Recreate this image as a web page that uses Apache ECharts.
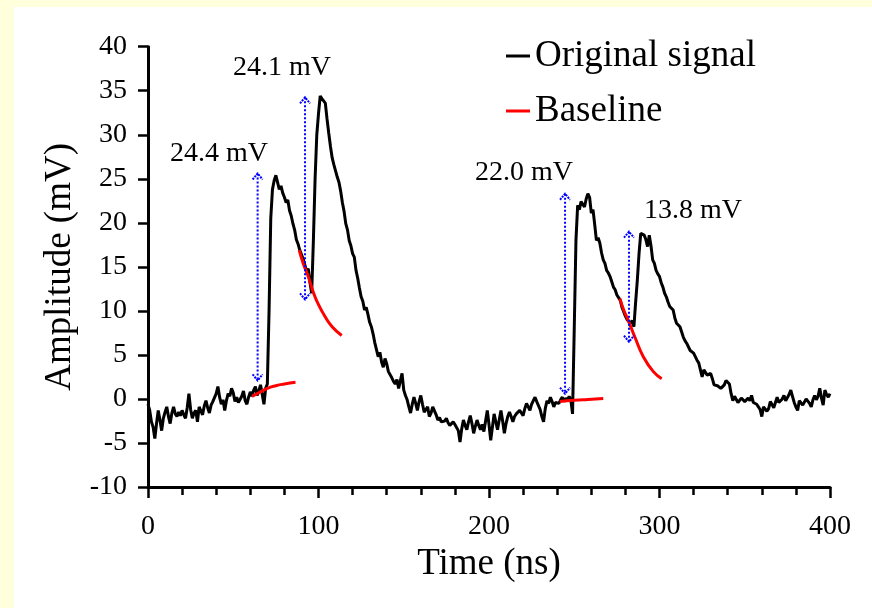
<!DOCTYPE html>
<html>
<head>
<meta charset="utf-8">
<script src="https://cdn.jsdelivr.net/npm/echarts@6/dist/echarts.min.js"></script>
<style>
  html, body { margin: 0; padding: 0; background: #FFFFDC; width: 872px; height: 608px; overflow: hidden; }
  #panel { position: absolute; left: 14px; top: 7px; width: 858px; height: 601px; background: #ffffff; }
  #chart { position: absolute; left: 0; top: 0; width: 872px; height: 608px; }
</style>
</head>
<body>
<div id="panel"></div>
<div id="chart"></div>
<script>
// ---- Data ----
const sampleStepNs = 1; // sampling interval of the recorded signal (ns)
const signalAmp = [
  -0.6,-1.3,-2.6,-3.2,-4.5,-2.8,-1.3,-2.4,-3.6,-2.2,
  -1.5,-0.9,-2.0,-2.8,-1.6,-0.9,-1.7,-2.0,-1.5,-1.9,
  -1.3,-1.8,-2.2,-1.0,0.6,-1.2,-2.2,-1.6,-1.3,-2.6,
  -0.9,-1.1,-1.8,-0.8,-0.2,-1.0,-1.6,-0.7,-0.3,-0.4,
  0.6,1.4,0.2,-0.6,-0.1,-1.3,-0.2,0.6,0.3,1.2,
  0.7,-0.3,0.2,-0.4,-0.5,0.3,0.9,-0.2,-0.6,0.2,
  0.8,0.3,1.0,1.4,0.4,0.9,1.6,0.5,-0.6,1.2,
  1.7,10.0,20.5,23.8,24.8,25.4,24.6,23.8,24.2,23.4,
  22.9,22.3,22.6,21.4,20.8,19.9,19.2,18.1,17.6,16.9,
  16.4,15.9,15.7,14.5,14.8,13.2,12.0,18.0,25.0,30.0,
  32.4,34.4,34.1,34.3,33.6,31.8,30.2,28.7,27.4,26.6,
  25.9,25.2,24.6,23.6,22.3,21.3,19.9,19.2,18.0,17.4,
  16.5,16.1,14.6,13.7,12.6,11.6,11.1,10.1,10.4,9.6,
  8.7,8.2,7.4,6.4,5.6,4.8,5.3,4.2,3.6,4.6,
  4.0,3.1,2.9,2.4,2.0,1.7,2.2,1.2,1.0,2.9,
  1.0,0.4,-0.1,-0.9,-1.6,-0.6,0.2,-0.5,-1.3,-0.3,
  0.4,-0.6,-1.5,-1.2,-0.9,-2.0,-1.6,-0.9,-0.7,-1.8,
  -2.4,-2.1,-2.6,-2.8,-2.5,-2.2,-2.7,-3.0,-3.2,-2.6,
  -2.9,-2.8,-3.6,-4.9,-3.4,-2.4,-3.0,-3.5,-2.6,-1.9,
  -2.8,-3.9,-3.1,-2.4,-3.0,-3.5,-2.9,-3.7,-2.5,-1.3,
  -2.9,-4.7,-3.2,-1.7,-2.6,-3.5,-2.4,-1.3,-2.5,-3.9,
  -2.8,-2.0,-1.5,-2.0,-2.6,-2.0,-1.7,-1.9,-1.3,-1.6,
  -1.9,-1.1,-0.5,-0.9,-1.3,-0.6,-0.2,0.2,-0.3,-0.5,
  -1.2,-2.0,-2.6,-1.1,-0.2,-0.5,0.2,-0.3,-0.9,-0.4,
  -0.2,-0.5,-0.1,0.2,-0.3,0.1,-0.2,0.3,-0.1,-1.7,
  8.0,18.0,22.0,21.5,22.4,22.6,21.8,22.7,23.3,22.9,
  21.1,21.5,19.8,18.0,18.3,17.7,16.6,15.8,15.4,14.6,
  14.3,13.9,13.3,12.7,12.4,11.8,11.5,11.2,10.4,9.9,
  9.4,9.0,8.8,8.6,8.9,8.2,11.0,13.5,16.5,18.8,
  19.0,18.6,18.1,17.3,18.6,17.4,15.8,15.4,14.6,14.2,
  13.9,13.2,12.7,12.0,11.6,11.0,10.5,10.6,10.1,9.2,
  8.6,8.4,8.2,7.6,7.0,6.6,6.3,5.9,5.5,5.3,
  5.2,4.8,4.4,4.1,3.9,2.5,3.3,3.1,2.7,2.5,
  2.9,2.3,1.6,1.7,1.5,1.4,1.2,1.0,1.6,2.1,
  1.9,1.7,0.6,-0.2,0.3,0.2,-0.4,-0.5,0.1,0.0,
  -0.3,-0.5,0.1,-0.2,0.4,-0.4,-0.2,-0.6,-0.9,-1.2,
  -2.0,-0.9,-0.7,-1.4,-1.1,-0.3,-0.5,-1.0,-0.4,0.2,
  -0.4,-0.6,0.0,0.4,-0.2,-0.3,0.5,1.0,0.3,-0.4,
  -0.9,-1.3,-0.2,-0.4,-0.7,-0.7,0.0,0.2,-0.5,-0.9,
  -0.1,0.4,-0.1,0.3,1.2,0.1,-0.7,1.0,0.5,0.2,
  0.6
];

// Baseline segments (time ns, amplitude mV)
const baseline1Time = [61, 65, 70, 75, 80, 86.5];
const baseline1Amp  = [0.3, 0.7, 1.2, 1.5, 1.7, 1.9];
const baseline2Time = [88.7, 91, 94, 97, 100, 104, 108, 113.6];
const baseline2Amp  = [16.9, 15.4, 13.9, 12.1, 10.7, 9.3, 8.2, 7.2];
const baseline3Time = [241.5, 250, 258, 267];
const baseline3Amp  = [-0.3, -0.15, -0.05, 0.05];
const baseline4Time = [276.8, 279, 281.7, 285.6, 290.5, 296.4, 301.3];
const baseline4Amp  = [11.4, 10.1, 8.9, 7.0, 4.8, 3.1, 2.3];

// Amplitude annotations (double arrows)
const arrowTime   = [64.3, 92.1, 244.6, 282.1];
const arrowTop    = [25.6, 34.25, 23.3, 19.0];
const arrowBottom = [2.1, 11.3, 0.6, 6.5];
const labelTime   = [41.6, 78.6, 220.5, 319.6];
const labelAmp    = [27.8, 37.6, 25.7, 21.4];
const labelText   = ['24.4 mV', '24.1 mV', '22.0 mV', '13.8 mV'];

const xTicks = { min: 0, max: 400, step: 100 };
const yTicks = { min: -10, max: 40, step: 5 };

// ---- Build ----
const FONT = '"Liberation Serif", "Times New Roman", serif';
const signalData = signalAmp.map((v, i) => [i * sampleStepNs, v]);
const zip = (a, b) => a.map((t, i) => [t, b[i]]);
const baselineSegs = [
  zip(baseline1Time, baseline1Amp),
  zip(baseline2Time, baseline2Amp),
  zip(baseline3Time, baseline3Amp),
  zip(baseline4Time, baseline4Amp)
];
const arrowData = arrowTime.map((t, i) => [t, arrowTop[i], arrowBottom[i], labelTime[i], labelAmp[i]]);

const chart = echarts.init(document.getElementById('chart'), null, { renderer: 'canvas' });
const axisColor = '#000';
const blue = '#0000FF';

const series = [
  {
    name: 'Original signal', type: 'line', data: signalData, showSymbol: false, symbol: 'none',
    lineStyle: { color: '#000', width: 3 }, itemStyle: { color: '#000' }, z: 2, animation: false
  }
];
baselineSegs.forEach(seg => series.push({
  name: 'Baseline', type: 'line', data: seg, showSymbol: false, symbol: 'none', smooth: true,
  lineStyle: { color: '#FF0000', width: 3 }, itemStyle: { color: '#FF0000' }, z: 3, animation: false
}));
series.push({
  type: 'custom', data: arrowData, z: 4, clip: false, animation: false, silent: true,
  encode: { x: [0, 3], y: [1, 2, 4] },
  renderItem: function (params, api) {
    const i = params.dataIndex;
    const x = api.value(0);
    const pT = api.coord([x, api.value(1)]);
    const pB = api.coord([x, api.value(2)]);
    const pL = api.coord([api.value(3), api.value(4)]);
    const st = { stroke: blue, lineWidth: 2, lineDash: [2, 2], fill: null };
    const hw = 5, hh = 6;
    return {
      type: 'group',
      children: [
        { type: 'line', shape: { x1: pT[0], y1: pT[1], x2: pB[0], y2: pB[1] }, style: st },
        { type: 'polyline', shape: { points: [[pT[0] - hw, pT[1] + hh], [pT[0], pT[1]], [pT[0] + hw, pT[1] + hh]] },
          style: { stroke: blue, lineWidth: 2, lineDash: [2, 1], fill: null } },
        { type: 'polyline', shape: { points: [[pB[0] - hw, pB[1] - hh], [pB[0], pB[1]], [pB[0] + hw, pB[1] - hh]] },
          style: { stroke: blue, lineWidth: 2, lineDash: [2, 1], fill: null } },
        { type: 'text', x: pL[0], y: pL[1],
          style: { text: labelText[i], font: '28px ' + FONT, fill: '#000', align: 'center', verticalAlign: 'middle' } }
      ]
    };
  }
});

chart.setOption({
  animation: false,
  backgroundColor: 'transparent',
  textStyle: { fontFamily: FONT, color: '#000' },
  grid: { left: 148, right: 42, top: 46.7, bottom: 121, containLabel: false },
  legend: {
    data: ['Original signal', 'Baseline'],
    orient: 'vertical', left: 501, top: 31,
    icon: 'rect', itemWidth: 24, itemHeight: 3, itemGap: 15,
    selectedMode: false,
    textStyle: { fontFamily: FONT, fontSize: 37, color: '#000', lineHeight: 40, padding: [0, 0, 0, 0] }
  },
  xAxis: {
    type: 'value', min: xTicks.min, max: xTicks.max, interval: xTicks.step,
    name: 'Time (ns)', nameLocation: 'middle', nameGap: 56,
    nameTextStyle: { fontFamily: FONT, fontSize: 37, color: '#000' },
    axisLine: { show: true, onZero: false, lineStyle: { color: axisColor, width: 3 } },
    axisTick: { show: true, inside: false, length: 11, lineStyle: { color: axisColor, width: 2.5 } },
    minorTick: { show: true, splitNumber: 5, length: 8, lineStyle: { color: axisColor, width: 2.5 } },
    splitLine: { show: false }, minorSplitLine: { show: false },
    axisLabel: { fontFamily: FONT, fontSize: 28, color: '#000', margin: 26 }
  },
  yAxis: {
    type: 'value', min: yTicks.min, max: yTicks.max, interval: yTicks.step,
    name: 'Amplitude (mV)', nameLocation: 'middle', nameGap: 62,
    nameTextStyle: { fontFamily: FONT, fontSize: 37, color: '#000' },
    axisLine: { show: true, onZero: false, lineStyle: { color: axisColor, width: 3 } },
    axisTick: { show: true, inside: false, length: 10, lineStyle: { color: axisColor, width: 2.5 } },
    splitLine: { show: false },
    axisLabel: { fontFamily: FONT, fontSize: 28, color: '#000', margin: 21 }
  },
  series: series
});
</script>
</body>
</html>
